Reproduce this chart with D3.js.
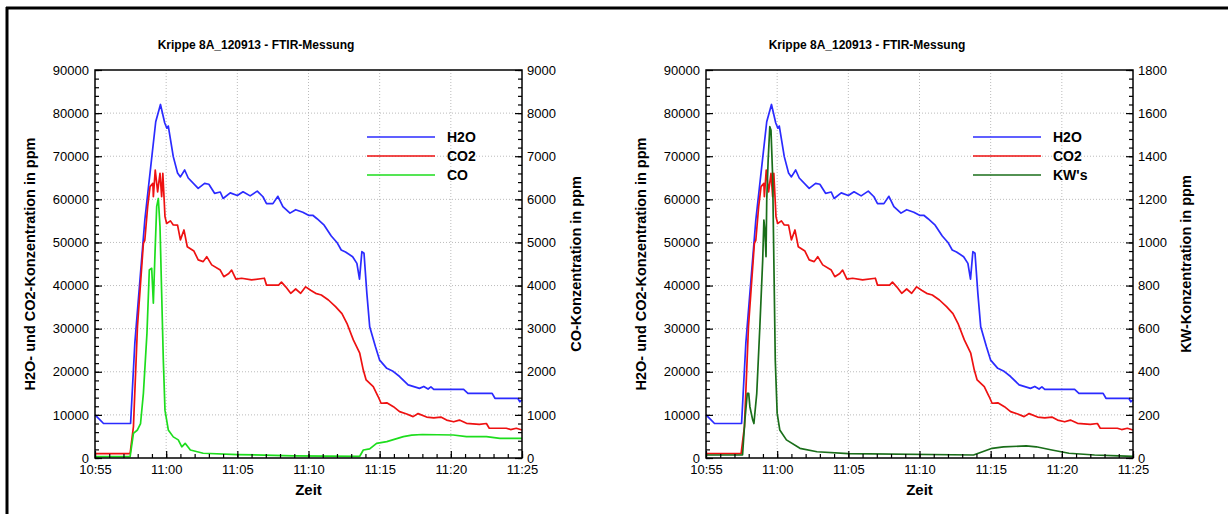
<!DOCTYPE html>
<html>
<head>
<meta charset="utf-8">
<script src="https://cdn.jsdelivr.net/npm/d3@7"></script>
<style>
  body { margin: 0; background: #fff; }
  svg { display: block; font-family: "Liberation Sans", Arial, sans-serif; }
  .tick text { font-size: 13px; fill: #000; }
</style>
</head>
<body>
<svg id="chart" width="1228" height="514"></svg>
<script>
// FTIR-Messung Krippe 8A, 12.09.2013
var titel = "Krippe 8A_120913 - FTIR-Messung";
var zeitTicks = ["10:55:00", "11:00:00", "11:05:00", "11:10:00", "11:15:00", "11:20:00", "11:25:00"];

// H2O in ppm (linke Achse)
var h2o = [
  ["10:55:00", 10000], ["10:55:18", 9000], ["10:55:36", 8000], ["10:57:30", 8000],
  ["10:57:48", 26700], ["10:58:30", 55200], ["10:58:58", 69100], ["10:59:16", 78000],
  ["10:59:36", 82000], ["10:59:54", 77700], ["11:00:03", 76500], ["11:00:09", 77000],
  ["11:00:30", 69900], ["11:00:48", 66100], ["11:01:00", 65200], ["11:01:18", 66800],
  ["11:01:33", 64950], ["11:02:15", 62550], ["11:02:42", 63700], ["11:03:00", 63500],
  ["11:03:24", 61400], ["11:03:48", 61700], ["11:04:00", 60200], ["11:04:30", 61500],
  ["11:05:00", 60900], ["11:05:24", 61750], ["11:05:54", 60800], ["11:06:24", 61900],
  ["11:06:48", 60600], ["11:07:03", 59000], ["11:07:30", 59000], ["11:07:51", 60700],
  ["11:08:12", 58300], ["11:08:42", 56800], ["11:09:06", 57600], ["11:09:36", 57000],
  ["11:10:00", 56300], ["11:10:18", 56300], ["11:10:36", 55500], ["11:11:06", 54000],
  ["11:11:36", 51500], ["11:12:00", 50000], ["11:12:18", 48250], ["11:12:36", 47800],
  ["11:13:06", 46700], ["11:13:24", 45150], ["11:13:35", 41500], ["11:13:45", 47850],
  ["11:13:54", 47500], ["11:14:06", 38200], ["11:14:18", 30450], ["11:14:42", 25850],
  ["11:15:00", 22700], ["11:15:30", 20800], ["11:15:54", 20200], ["11:16:24", 18900],
  ["11:17:00", 16950], ["11:17:48", 16150], ["11:18:06", 16600], ["11:18:24", 16000],
  ["11:18:36", 16500], ["11:18:48", 15900], ["11:20:54", 15900], ["11:21:12", 15000],
  ["11:22:54", 15000], ["11:23:06", 13850], ["11:24:42", 13850], ["11:24:51", 13050],
  ["11:25:00", 13500]
];

// CO2 in ppm (linke Achse)
var co2 = [
  ["10:55:00", 1000], ["10:57:28", 1000], ["10:57:42", 7260], ["10:57:59", 30450],
  ["10:58:24", 49800], ["10:58:30", 50500], ["10:58:42", 58300], ["10:58:52", 62950],
  ["10:59:04", 63700], ["10:59:06", 60600], ["10:59:14", 66800], ["10:59:24", 61750],
  ["10:59:34", 66050], ["10:59:41", 60600], ["10:59:46", 66000], ["10:59:55", 56000],
  ["11:00:02", 54400], ["11:00:18", 55000], ["11:00:30", 54050], ["11:00:48", 54000],
  ["11:01:00", 50600], ["11:01:15", 52900], ["11:01:29", 49000], ["11:01:57", 48000],
  ["11:02:15", 45950], ["11:02:36", 45550], ["11:02:51", 46700], ["11:03:12", 44800],
  ["11:03:48", 43600], ["11:04:03", 42050], ["11:04:24", 42800], ["11:04:36", 43600],
  ["11:04:54", 41500], ["11:05:18", 41700], ["11:06:00", 41300], ["11:06:54", 41700],
  ["11:07:03", 40100], ["11:07:54", 40100], ["11:08:06", 40800], ["11:08:24", 39700],
  ["11:08:45", 38200], ["11:09:06", 39200], ["11:09:27", 38200], ["11:09:48", 39700],
  ["11:10:09", 38900], ["11:10:30", 38200], ["11:10:54", 37800], ["11:11:24", 36650],
  ["11:11:54", 35100], ["11:12:21", 33500], ["11:12:42", 31250], ["11:13:09", 27400],
  ["11:13:36", 24300], ["11:13:51", 20400], ["11:14:03", 18100], ["11:14:33", 16550],
  ["11:14:54", 14200], ["11:15:06", 12700], ["11:15:30", 12800], ["11:15:58", 11900],
  ["11:16:24", 10750], ["11:16:54", 10200], ["11:17:21", 9600], ["11:17:42", 10300],
  ["11:18:18", 9500], ["11:18:48", 9300], ["11:19:18", 9500], ["11:19:42", 8800],
  ["11:20:12", 8400], ["11:20:36", 8800], ["11:21:06", 8050], ["11:22:00", 7800],
  ["11:22:30", 8000], ["11:22:42", 6900], ["11:23:54", 6900], ["11:24:12", 6600],
  ["11:24:36", 6900], ["11:25:00", 6500]
];

// CO in ppm (rechte Achse, linkes Diagramm)
var co = [
  ["10:55:00", 30], ["10:57:28", 30], ["10:57:42", 573], ["10:57:59", 650],
  ["10:58:12", 800], ["10:58:24", 1500], ["10:58:39", 2890], ["10:58:49", 4360],
  ["10:58:59", 4400], ["10:59:06", 3590], ["10:59:12", 4600], ["10:59:20", 5830],
  ["10:59:27", 6020], ["10:59:34", 5370], ["10:59:41", 3820], ["10:59:48", 2270],
  ["10:59:55", 1110], ["11:00:09", 650], ["11:00:30", 490], ["11:00:51", 420],
  ["11:01:06", 260], ["11:01:20", 340], ["11:01:42", 185], ["11:02:36", 110],
  ["11:05:00", 80], ["11:09:00", 50], ["11:13:36", 40], ["11:13:51", 185],
  ["11:14:18", 210], ["11:14:47", 340], ["11:15:30", 380], ["11:16:19", 460],
  ["11:16:40", 495], ["11:17:15", 530], ["11:18:00", 545], ["11:20:10", 533],
  ["11:21:06", 495], ["11:22:30", 495], ["11:23:27", 455], ["11:25:00", 455]
];

// Kohlenwasserstoffe in ppm (rechte Achse, rechtes Diagramm)
var kws = [
  ["10:55:00", 14], ["10:57:34", 14], ["10:57:44", 176], ["10:57:54", 300],
  ["10:58:00", 300], ["10:58:05", 238], ["10:58:17", 176], ["10:58:22", 160],
  ["10:58:34", 300], ["10:58:47", 609], ["10:58:59", 918], ["10:59:04", 1104],
  ["10:59:08", 1060], ["10:59:13", 934], ["10:59:16", 1197], ["10:59:22", 1382],
  ["10:59:29", 1537], ["10:59:34", 1520], ["10:59:41", 1305], ["10:59:46", 918],
  ["10:59:52", 455], ["11:00:00", 207], ["11:00:11", 130], ["11:00:39", 84],
  ["11:01:36", 45], ["11:02:48", 29], ["11:05:00", 20], ["11:13:48", 14],
  ["11:15:06", 45], ["11:15:54", 52], ["11:17:30", 56], ["11:18:12", 52],
  ["11:19:18", 37], ["11:20:30", 22], ["11:22:18", 14], ["11:24:00", 10],
  ["11:25:00", 8]
];

var parseT = d3.timeParse("%H:%M:%S");
var svg = d3.select("#chart");

// Rahmen (nur oben und links sichtbar)
svg.append("line").attr("x1", 6).attr("y1", 8).attr("x2", 1228).attr("y2", 8)
  .attr("stroke", "#000").attr("stroke-width", 3);
svg.append("line").attr("x1", 7).attr("y1", 7).attr("x2", 7).attr("y2", 514)
  .attr("stroke", "#000").attr("stroke-width", 3);

function diagramm(links, cfg) {
  var rechts = links + 427, oben = 70, unten = 458;
  var x = d3.scaleTime().domain([parseT(zeitTicks[0]), parseT(zeitTicks[6])]).range([links, rechts]);
  var y = d3.scaleLinear().domain([0, 90000]).range([unten, oben]);
  var y2 = d3.scaleLinear().domain([0, cfg.max2]).range([unten, oben]);
  var g = svg.append("g");

  // gepunktetes Gitter
  var gitter = g.append("g").attr("stroke", "#bbb").attr("stroke-dasharray", "1,2").attr("stroke-width", 1);
  zeitTicks.slice(1, 6).forEach(function(t) {
    gitter.append("line").attr("x1", x(parseT(t))).attr("x2", x(parseT(t))).attr("y1", oben).attr("y2", unten);
  });
  d3.range(10000, 90000, 10000).forEach(function(v) {
    gitter.append("line").attr("x1", links).attr("x2", rechts).attr("y1", y(v)).attr("y2", y(v));
  });

  // Kurven
  var plot = g.append("g");
  function kurve(daten, skala, farbe) {
    var line = d3.line().x(function(d) { return x(parseT(d[0])); }).y(function(d) { return skala(d[1]); });
    plot.append("path").datum(daten).attr("d", line).attr("fill", "none")
      .attr("stroke", farbe).attr("stroke-width", 1.7).attr("stroke-linejoin", "round");
  }
  kurve(h2o, y, "#2b2bff");
  kurve(co2, y, "#ee1111");
  kurve(cfg.daten, y2, cfg.farbe);

  // Achsen mit Ticks nach innen
  var ganz = d3.format("d");
  var minX = d3.timeMinute.range(parseT("10:55:00"), parseT("11:25:01"));
  g.append("g").attr("transform", "translate(0," + unten + ")")
    .call(d3.axisBottom(x).tickValues(minX).tickSize(-4).tickSizeOuter(0).tickFormat(""));
  g.append("g").attr("transform", "translate(0," + unten + ")")
    .call(d3.axisBottom(x).tickValues(zeitTicks.map(parseT)).tickSize(-7).tickSizeOuter(0)
      .tickPadding(7).tickFormat(d3.timeFormat("%H:%M")));

  g.append("g").attr("transform", "translate(" + links + ",0)")
    .call(d3.axisLeft(y).tickValues(d3.range(0, 90001, 2000)).tickSize(-4).tickSizeOuter(0).tickFormat(""));
  g.append("g").attr("transform", "translate(" + links + ",0)")
    .call(d3.axisLeft(y).tickValues(d3.range(0, 90001, 10000)).tickSize(-7).tickSizeOuter(0)
      .tickPadding(6).tickFormat(ganz));

  g.append("g").attr("transform", "translate(" + rechts + ",0)")
    .call(d3.axisRight(y2).tickValues(d3.range(0, cfg.max2 + 1, cfg.max2 / 45)).tickSize(-4).tickSizeOuter(0).tickFormat(""));
  g.append("g").attr("transform", "translate(" + rechts + ",0)")
    .call(d3.axisRight(y2).tickValues(d3.range(0, cfg.max2 + 1, cfg.max2 / 9)).tickSize(-7).tickSizeOuter(0)
      .tickPadding(5).tickFormat(ganz));

  g.selectAll(".domain").remove();
  g.selectAll(".tick line").attr("stroke", "#000").attr("stroke-width", 1.2);

  g.append("rect").attr("x", links).attr("y", oben).attr("width", rechts - links).attr("height", unten - oben)
    .attr("fill", "none").attr("stroke", "#000").attr("stroke-width", 1.5);

  // Beschriftungen
  g.append("text").attr("x", links + 161).attr("y", 49).attr("text-anchor", "middle")
    .attr("font-size", 12).attr("font-weight", "bold").text(titel);
  g.append("text").attr("x", (links + rechts) / 2).attr("y", 495).attr("text-anchor", "middle")
    .attr("font-size", 15).attr("font-weight", "bold").text("Zeit");
  g.append("text").attr("transform", "translate(" + (links - 65) + "," + ((oben + unten) / 2) + ") rotate(-90)")
    .attr("text-anchor", "middle").attr("dominant-baseline", "central")
    .attr("font-size", 14.5).attr("font-weight", "bold").text("H2O- und CO2-Konzentration in ppm");
  g.append("text").attr("transform", "translate(" + (rechts + cfg.titel2Abstand) + "," + ((oben + unten) / 2) + ") rotate(-90)")
    .attr("text-anchor", "middle").attr("dominant-baseline", "central")
    .attr("font-size", 14.5).attr("font-weight", "bold").text(cfg.titel2);

  // Legende
  var eintraege = [["H2O", "#2b2bff"], ["CO2", "#ee1111"], [cfg.name, cfg.farbe]];
  eintraege.forEach(function(e, i) {
    var ly = 137 + i * 19;
    g.append("line").attr("x1", links + cfg.legX).attr("x2", links + cfg.legX + 68)
      .attr("y1", ly).attr("y2", ly).attr("stroke", e[1]).attr("stroke-width", 1.7);
    g.append("text").attr("x", links + cfg.legX + 80).attr("y", ly).attr("dominant-baseline", "central")
      .attr("font-size", 14).attr("font-weight", "bold").text(e[0]);
  });
}

diagramm(95, { daten: co, max2: 9000, farbe: "#1ddd1d", name: "CO",
  titel2: "CO-Konzentration in ppm", titel2Abstand: 54, legX: 272 });
diagramm(706, { daten: kws, max2: 1800, farbe: "#1a6e1a", name: "KW's",
  titel2: "KW-Konzentration in ppm", titel2Abstand: 53, legX: 267 });
</script>
</body>
</html>
